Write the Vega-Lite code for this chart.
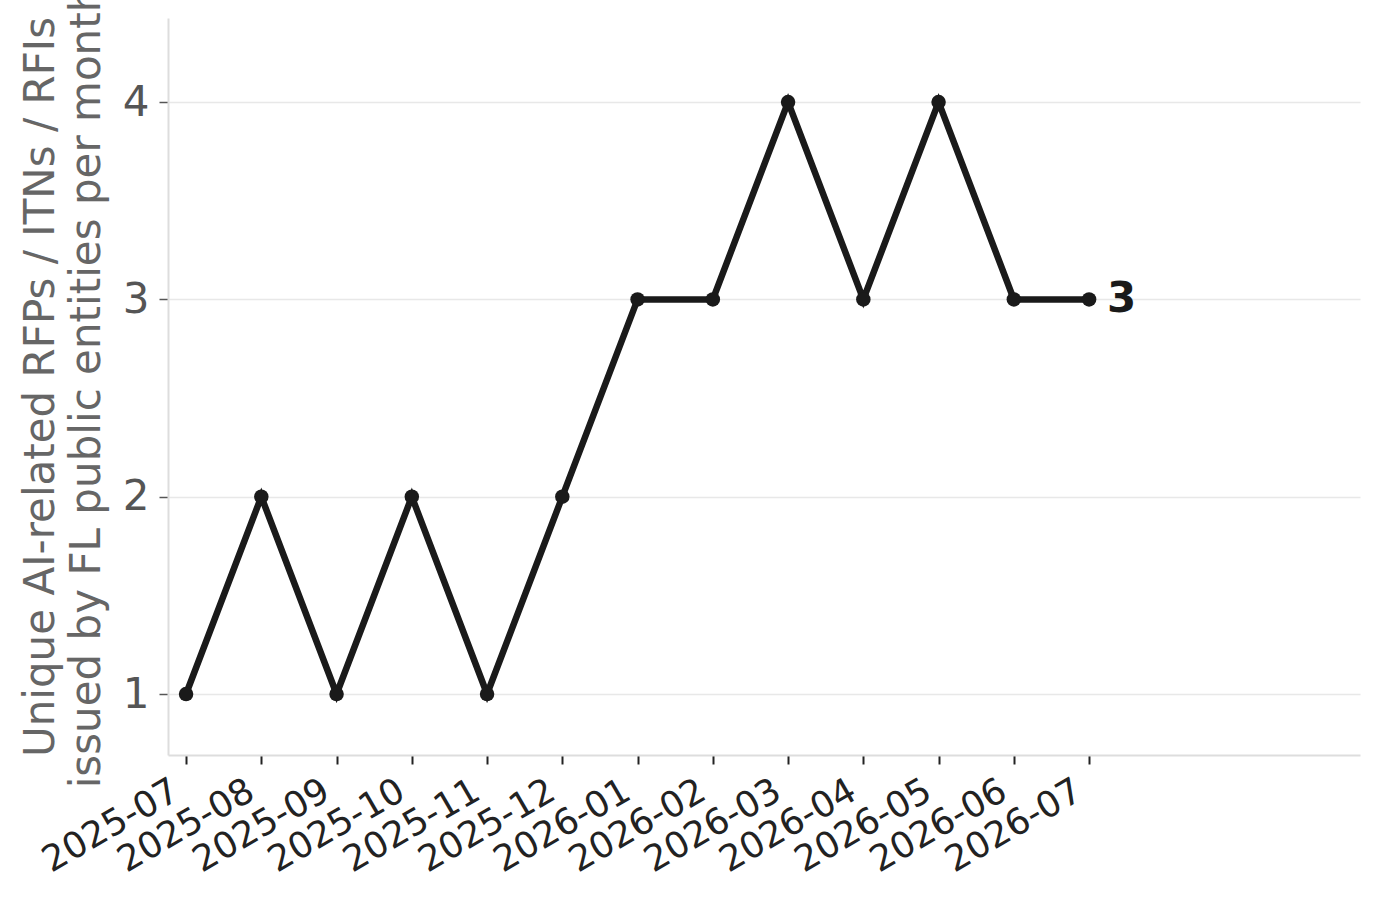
{
  "$schema": "https://vega.github.io/schema/vega-lite/v6.json",
  "autosize": "none",
  "width": 1192,
  "height": 737,
  "padding": {"left": 168, "top": 18, "right": 20, "bottom": 144},
  "background": "white",
  "config": {
    "view": {"stroke": null},
    "font": "DejaVu Sans"
  },
  "data": {
    "values": [
      {"month": "2025-07", "i": 0, "count": 1},
      {"month": "2025-08", "i": 1, "count": 2},
      {"month": "2025-09", "i": 2, "count": 1},
      {"month": "2025-10", "i": 3, "count": 2},
      {"month": "2025-11", "i": 4, "count": 1},
      {"month": "2025-12", "i": 5, "count": 2},
      {"month": "2026-01", "i": 6, "count": 3},
      {"month": "2026-02", "i": 7, "count": 3},
      {"month": "2026-03", "i": 8, "count": 4},
      {"month": "2026-04", "i": 9, "count": 3},
      {"month": "2026-05", "i": 10, "count": 4},
      {"month": "2026-06", "i": 11, "count": 3},
      {"month": "2026-07", "i": 12, "count": 3}
    ]
  },
  "encoding": {
    "x": {
      "field": "i",
      "type": "quantitative",
      "scale": {"domain": [-0.24, 15.6], "nice": false, "zero": false},
      "axis": {
        "title": null,
        "values": [0, 1, 2, 3, 4, 5, 6, 7, 8, 9, 10, 11, 12],
        "labelExpr": "['2025-07','2025-08','2025-09','2025-10','2025-11','2025-12','2026-01','2026-02','2026-03','2026-04','2026-05','2026-06','2026-07'][datum.value]",
        "labelAngle": -30,
        "labelAlign": "right",
        "labelBaseline": "top",
        "labelFontSize": 36,
        "labelColor": "#222222",
        "labelPadding": 9,
        "labelOffset": -19,
        "labelOverlap": false,
        "labelFlush": false,
        "grid": false,
        "domainColor": "#dddddd",
        "domainWidth": 2,
        "tickColor": "#222222",
        "tickWidth": 2,
        "tickSize": 9
      }
    },
    "y": {
      "field": "count",
      "type": "quantitative",
      "scale": {"domain": [0.691, 4.426], "nice": false, "zero": false},
      "axis": {
        "title": ["Unique AI-related RFPs / ITNs / RFIs", "issued by FL public entities per month"],
        "titleFontSize": 42,
        "titleFontWeight": "normal",
        "titleColor": "#666666",
        "titleLineHeight": 46,
        "titlePadding": 14,
        "values": [1, 2, 3, 4],
        "labelFontSize": 42,
        "labelColor": "#555555",
        "labelPadding": 10,
        "grid": true,
        "gridColor": "#e8e8e8",
        "gridWidth": 1.5,
        "domainColor": "#dddddd",
        "domainWidth": 2,
        "tickColor": "#555555",
        "tickWidth": 1.5,
        "tickSize": 9
      }
    }
  },
  "layer": [
    {
      "mark": {"type": "line", "color": "#1a1a1a", "strokeWidth": 6.5}
    },
    {
      "mark": {"type": "point", "filled": true, "color": "#1a1a1a", "size": 210, "opacity": 1}
    },
    {
      "transform": [{"filter": "datum.i == 12"}],
      "mark": {"type": "text", "align": "left", "baseline": "middle", "dx": 18, "fontSize": 42, "fontWeight": "bold", "color": "#1a1a1a"},
      "encoding": {"text": {"field": "count", "type": "quantitative"}}
    }
  ]
}
